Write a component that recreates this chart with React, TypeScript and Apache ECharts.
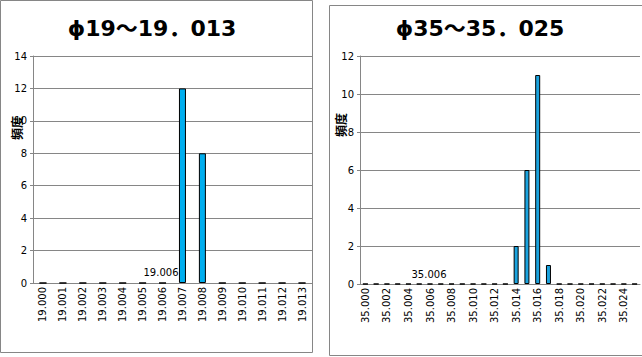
import React, { useEffect, useRef } from "react";
import * as echarts from "echarts";

const leftCategories = ["19.000","19.001","19.002","19.003","19.004","19.005","19.006","19.007","19.008","19.009","19.010","19.011","19.012","19.013"];
const leftValues = [0,0,0,0,0,0,0,12,8,0,0,0,0,0];
const rightCategories = ["35.000","35.001","35.002","35.003","35.004","35.005","35.006","35.007","35.008","35.009","35.010","35.011","35.012","35.013","35.014","35.015","35.016","35.017","35.018","35.019","35.020","35.021","35.022","35.023","35.024","35.025"];
const rightValues = [0,0,0,0,0,0,0,0,0,0,0,0,0,0,2,6,11,1,0,0,0,0,0,0,0,0];
const leftTitle = "ϕ19～19．013";
const rightTitle = "ϕ35～35．025";
const yName = "頻度";
const leftNote = "19.006";
const rightNote = "35.006";

const FONT = "'DejaVu Sans', sans-serif";
const GRAY = "#868686";
const TITLE_FONT = "bold 22px 'DejaVu Sans', 'Noto Sans CJK JP', sans-serif";

export default function App() {
  const ref = useRef<HTMLDivElement>(null);
  useEffect(() => {
    const chart = echarts.init(ref.current!, null, { renderer: "svg" });
    const xAxisBase = (data: string[], idx: number, interval: number) => ({
      type: "category",
      gridIndex: idx,
      data,
      axisLine: { lineStyle: { color: GRAY, width: 1 } },
      axisTick: { show: false },
      axisLabel: { rotate: 90, interval, margin: 4, color: "#000", fontFamily: FONT, fontSize: 10 },
    });
    const yAxisBase = (idx: number, max: number) => ({
      type: "value",
      gridIndex: idx,
      min: 0,
      max,
      interval: 2,
      axisLine: { show: true, lineStyle: { color: GRAY } },
      axisTick: { show: true, length: 3, lineStyle: { color: GRAY } },
      axisLabel: { color: "#000", fontFamily: FONT, fontSize: 10, margin: 6 },
      splitLine: { lineStyle: { color: GRAY, width: 1 } },
    });
    chart.setOption({
      animation: false,
      backgroundColor: "#fff",
      grid: [
        { left: 33, top: 56, width: 279, height: 227 },
        { left: 360, top: 56, width: 280, height: 228 },
      ],
      xAxis: [xAxisBase(leftCategories, 0, 0), xAxisBase(rightCategories, 1, 1)],
      yAxis: [yAxisBase(0, 14), yAxisBase(1, 12)],
      series: [
        {
          type: "bar",
          xAxisIndex: 0,
          yAxisIndex: 0,
          data: leftValues,
          barWidth: 7,
          itemStyle: { color: "#00AEEF", borderColor: "#000", borderWidth: 1 },
        },
        {
          type: "bar",
          xAxisIndex: 1,
          yAxisIndex: 1,
          data: rightValues,
          barWidth: 5,
          itemStyle: { color: "#1BA3DE", borderColor: "#000", borderWidth: 1 },
        },
      ],
      graphic: [
        { type: "rect", shape: { x: 0.5, y: 0.5, width: 312, height: 352 }, style: { fill: "none", stroke: GRAY, lineWidth: 1 }, z: 10 },
        { type: "rect", shape: { x: 329.5, y: 5.5, width: 320, height: 350 }, style: { fill: "none", stroke: GRAY, lineWidth: 1 }, z: 10 },
        { type: "text", x: 152, y: 28, style: { text: leftTitle, font: TITLE_FONT, fill: "#000", textAlign: "center", textVerticalAlign: "middle" } },
        { type: "text", x: 480, y: 28, style: { text: rightTitle, font: TITLE_FONT, fill: "#000", textAlign: "center", textVerticalAlign: "middle" } },
        { type: "text", x: 16, y: 128, rotation: Math.PI / 2, style: { text: yName, font: "bold 12px 'Noto Sans CJK JP', sans-serif", fill: "#000", textAlign: "center", textVerticalAlign: "middle" } },
        { type: "text", x: 340, y: 125, rotation: Math.PI / 2, style: { text: yName, font: "bold 12px 'Noto Sans CJK JP', sans-serif", fill: "#000", textAlign: "center", textVerticalAlign: "middle" } },
        { type: "text", x: 161, y: 272, style: { text: leftNote, font: "10px 'DejaVu Sans', sans-serif", fill: "#000", textAlign: "center", textVerticalAlign: "middle" } },
        { type: "text", x: 429, y: 274, style: { text: rightNote, font: "10px 'DejaVu Sans', sans-serif", fill: "#000", textAlign: "center", textVerticalAlign: "middle" } },
      ],
    });
    return () => chart.dispose();
  }, []);
  return <div ref={ref} style={{ position: "absolute", left: 0, top: 0, width: 642, height: 357 }} />;
}
